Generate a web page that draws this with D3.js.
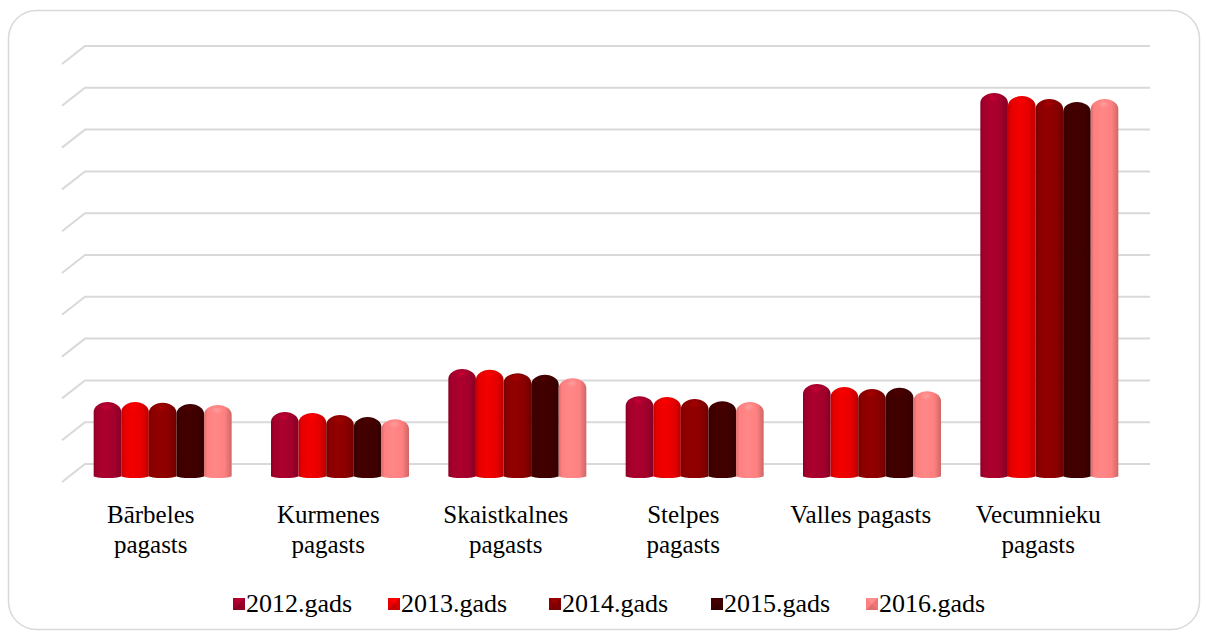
<!DOCTYPE html>
<html><head><meta charset="utf-8">
<script src="https://cdn.jsdelivr.net/npm/d3@7"></script>
<style>body{margin:0;background:#fff}svg{display:block}</style>
</head><body><svg id="c" width="1208" height="635"></svg>
<script>
const categories = ["Bārbeles pagasts", "Kurmenes pagasts", "Skaistkalnes pagasts", "Stelpes pagasts", "Valles pagasts", "Vecumnieku pagasts"];
const seriesNames = ["2012.gads", "2013.gads", "2014.gads", "2015.gads", "2016.gads"];
const v2012 = [177, 153, 256, 191, 220, 916];
const v2013 = [177, 151, 254, 189, 213, 909];
const v2014 = [175, 146, 246, 184, 208, 902];
const v2015 = [172, 141, 242, 179, 211, 895];
const v2016 = [170, 136, 234, 177, 203, 902];
const yTicks = [0, 100, 200, 300, 400, 500, 600, 700, 800, 900, 1000];
const colors = ["#a3002c", "#e60000", "#8a0000", "#3f0000", "#ff8080"];

const values = [v2012, v2013, v2014, v2015, v2016];
const svg = d3.select("#c");
const FONT = "'Liberation Serif','Times New Roman',serif";

// chart border
svg.append("rect").attr("x", 8.5).attr("y", 10.5).attr("width", 1191).attr("height", 619)
  .attr("rx", 28).attr("ry", 28).attr("fill", "#fff").attr("stroke", "#d9d9d9").attr("stroke-width", 1.5);

// 3D geometry
const depthX = 23, depthY = 18;
const frontLeft = 62, backRight = 1150;
const y = d3.scaleLinear().domain([0, 1000]).range([464, 46]);       // back wall
const xFront = d3.scaleBand().domain(categories).range([frontLeft, backRight - depthX]);
const xMid = d3.scaleBand().domain(categories).range([frontLeft + 12, backRight - 12]);
const inner = d3.scaleBand().domain(seriesNames).range([0, 138]);
const barOffY = 12;

// gridlines
const grid = svg.append("g").attr("stroke", "#d9d9d9").attr("stroke-width", 2).attr("fill", "none");
yTicks.forEach(t => {
  const yy = y(t);
  grid.append("path").attr("d", `M${frontLeft},${yy + depthY} L${frontLeft + depthX},${yy} L${backRight},${yy}`);
});

// gradients
const defs = svg.append("defs");
colors.forEach((c, i) => {
  const base = d3.color(c);
  const g = defs.append("linearGradient").attr("id", "g" + i).attr("x1", 0).attr("x2", 1).attr("y1", 0).attr("y2", 0);
  g.append("stop").attr("offset", "0%").attr("stop-color", base.darker(0.45));
  g.append("stop").attr("offset", "12%").attr("stop-color", base);
  g.append("stop").attr("offset", "40%").attr("stop-color", base.brighter(0.15));
  g.append("stop").attr("offset", "75%").attr("stop-color", base);
  g.append("stop").attr("offset", "100%").attr("stop-color", base.darker(0.6));
  const r = defs.append("radialGradient").attr("id", "r" + i).attr("cx", "50%").attr("cy", "50%").attr("r", "50%");
  r.append("stop").attr("offset", "0%").attr("stop-color", base.brighter(0.7)).attr("stop-opacity", 0.75);
  r.append("stop").attr("offset", "100%").attr("stop-color", base.brighter(0.7)).attr("stop-opacity", 0);
});

// bars
const bars = svg.append("g");
categories.forEach((cat, ci) => {
  const gx = xMid(cat) + (xMid.bandwidth() - 138) / 2;
  seriesNames.forEach((s, si) => {
    const v = values[si][ci];
    const x0 = gx + inner(s), w = inner.bandwidth();
    const top = y(v) + barOffY, bottom = y(0) + barOffY;
    const rx = w / 2, ry = 10;
    const d = `M${x0},${bottom} L${x0},${top + ry} A${rx},${ry} 0 0 1 ${x0 + w},${top + ry} L${x0 + w},${bottom} A${rx},2 0 0 1 ${x0},${bottom} Z`;
    bars.append("path").attr("d", d).attr("fill", `url(#g${si})`);
    bars.append("ellipse").attr("cx", x0 + w * 0.47).attr("cy", top + 5).attr("rx", w * 0.22).attr("ry", 4)
      .attr("fill", `url(#r${si})`);
  });
});

// category labels
const lab = svg.append("g").attr("font-family", FONT).attr("font-size", 25).attr("fill", "#000").attr("text-anchor", "middle");
categories.forEach(cat => {
  const cx = xFront(cat) + xFront.bandwidth() / 2;
  const t = lab.append("text").attr("x", cx).attr("y", 523);
  t.text(cat);
  if (t.node().getComputedTextLength() > 145) {
    t.text(null);
    const words = cat.split(" ");
    t.append("tspan").attr("x", cx).attr("y", 523).text(words[0]);
    t.append("tspan").attr("x", cx).attr("y", 553).text(words.slice(1).join(" "));
  }
});

// legend
const leg = svg.append("g").attr("font-family", FONT).attr("font-size", 26);
const legX = [233, 388, 549, 711, 866];
seriesNames.forEach((s, i) => {
  const gx = legX[i];
  const base = d3.color(colors[i]);
  const m = leg.append("g").attr("transform", `translate(${gx},${598})`);
  const sz = 12;
  m.append("rect").attr("width", sz).attr("height", sz).attr("fill", base);
  m.append("path").attr("d", `M0,0 L${sz},0 L${sz/2},${sz/2} Z`).attr("fill", base.brighter(0.3));
  m.append("path").attr("d", `M0,${sz} L${sz},${sz} L${sz/2},${sz/2} Z`).attr("fill", base.darker(0.4));
  m.append("path").attr("d", `M${sz},0 L${sz},${sz} L${sz/2},${sz/2} Z`).attr("fill", base.darker(0.2));
  leg.append("text").attr("x", gx + 13).attr("y", 612).text(s);
});
</script>
</body></html>
